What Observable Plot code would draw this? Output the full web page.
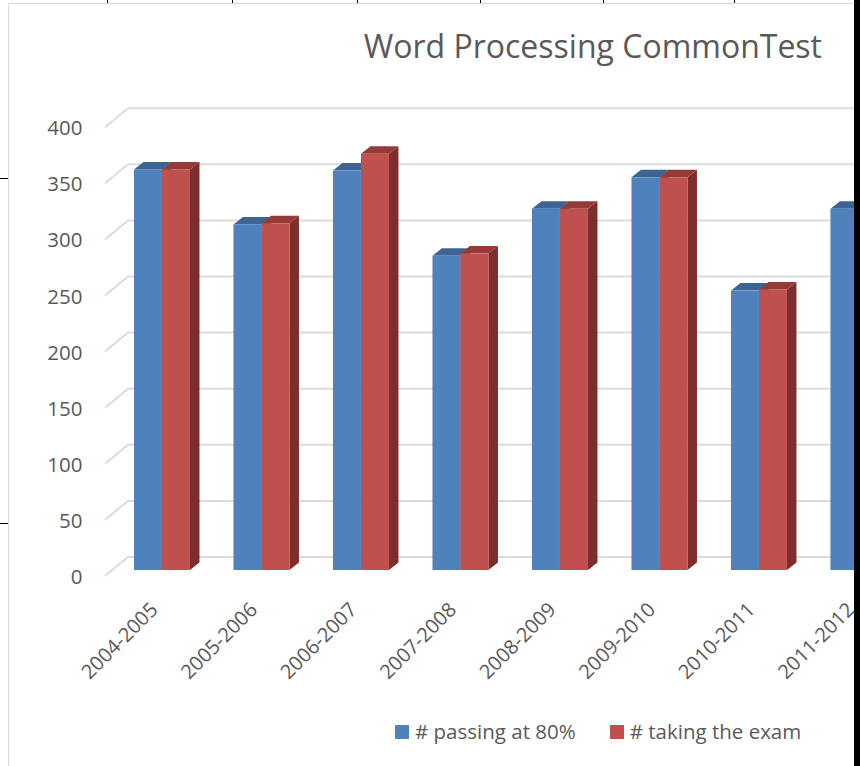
<!DOCTYPE html>
<html>
<head>
<meta charset="utf-8">
<script src="https://cdn.jsdelivr.net/npm/d3@7"></script>
<script src="https://cdn.jsdelivr.net/npm/@observablehq/plot@0.6"></script>
<style>
  html, body { margin: 0; padding: 0; background: #fff; }
  #page { position: relative; width: 860px; height: 766px; overflow: hidden; background: #fff; font-family: "Open Sans", sans-serif; }
  #chart { position: absolute; left: 0; top: 0; }
  .frame-top { position: absolute; left: 8px; top: 3px; width: 860px; height: 1px; background: #d9d9d9; }
  .frame-left { position: absolute; left: 8px; top: 3px; width: 1px; height: 770px; background: #d9d9d9; }
  .cell-tick { position: absolute; top: 0; width: 1px; height: 3px; background: #000; }
  .row-tick { position: absolute; left: 0; width: 8px; height: 1px; background: #000; }
  .edge { position: absolute; left: 854px; top: 0; width: 6px; height: 766px; background: #000; }
  #title { position: absolute; top: 30px; right: 38px; font-size: 32px; line-height: 32px; color: #595959; white-space: nowrap; }
  #legend { position: absolute; top: 721px; left: 395px; font-size: 20.5px; line-height: 20px; color: #595959; white-space: nowrap; display: flex; }
  #legend .item { display: flex; align-items: center; }
  #legend .swatch { width: 14px; height: 14px; margin-right: 6px; margin-top: 2px; }
</style>
</head>
<body>
<div id="page">
  <div id="chart"></div>
  <div class="frame-top"></div>
  <div class="frame-left"></div>
  <div class="cell-tick" style="left:107px"></div>
  <div class="cell-tick" style="left:232px"></div>
  <div class="cell-tick" style="left:357px"></div>
  <div class="cell-tick" style="left:480px"></div>
  <div class="cell-tick" style="left:603px"></div>
  <div class="cell-tick" style="left:734px"></div>
  <div class="row-tick" style="top:178px"></div>
  <div class="row-tick" style="top:523px"></div>
  <div id="title">Word Processing CommonTest</div>
  <div id="legend"></div>
  <div class="edge"></div>
</div>
<script>
// School years on the category axis
const years = ["2004-2005", "2005-2006", "2006-2007", "2007-2008", "2008-2009", "2009-2010", "2010-2011", "2011-2012"];
// Number of students passing at 80%
const passing = [357, 308, 356, 280, 322, 350, 249, 322];
// Number of students taking the exam
const taking = [357, 309, 371, 282, 322, 350, 250, 322];
// Value axis ticks
const yTicks = [0, 50, 100, 150, 200, 250, 300, 350, 400];

const seriesNames = ["# passing at 80%", "# taking the exam"];
const seriesColors = ["#4f81bd", "#c0504d"];

// Bar geometry (x units = one category slot)
const barW = 0.2814;
const depthX = 9.5, depthY = 7.5;          // bar extrusion, px
const wallX = 23, wallFront = 6, wallBack = 13; // floor / back wall offsets, px

// Back-wall gridlines with the slanted side-wall segment
const grid = (index, scales, values, dims) => {
  const y = scales.y;
  const left = dims.marginLeft, right = dims.width - dims.marginRight;
  const g = d3.create("svg:g").attr("stroke", "#dcdcdc").attr("stroke-width", 2).attr("fill", "none");
  for (const t of yTicks) {
    g.append("path").attr("d", `M${left},${y(t) + wallFront}L${left + wallX},${y(t) - wallBack}H${right}`);
  }
  return g.node();
};

// Top and side faces of the extruded bars
const faces = (vals, start, end, topColor, sideColor) => (index, scales) => {
  const {x, y} = scales;
  const g = d3.create("svg:g");
  vals.forEach((v, i) => {
    const x0 = x(i + start), x1 = x(i + end), yt = y(v), yb = y(0);
    g.append("path").attr("fill", sideColor)
      .attr("d", `M${x1},${yb}L${x1},${yt}L${x1 + depthX},${yt - depthY}L${x1 + depthX},${yb - depthY}Z`);
    g.append("path").attr("fill", topColor)
      .attr("d", `M${x0},${yt}L${x1},${yt}L${x1 + depthX},${yt - depthY}L${x0 + depthX},${yt - depthY}Z`);
  });
  return g.node();
};

const plot = Plot.plot({
  width: 1000,
  height: 766,
  marginLeft: 105,
  marginRight: 0,
  marginTop: 121.2,
  marginBottom: 196,
  style: {fontFamily: "'Open Sans', sans-serif", background: "transparent", maxWidth: "none", overflow: "visible"},
  x: {type: "linear", domain: [-0.5725, 8.4225], axis: null},
  y: {domain: [0, 400], axis: null},
  marks: [
    grid,
    faces(passing, -barW, 0, "#3d6594", "#2f5079"),
    Plot.rect(passing, {x1: (d, i) => i - barW, x2: (d, i) => i, y1: () => 0, y2: d => d, fill: seriesColors[0]}),
    faces(taking, 0, barW, "#963a38", "#7b2e2c"),
    Plot.rect(taking, {x1: (d, i) => i, x2: (d, i) => i + barW, y1: () => 0, y2: d => d, fill: seriesColors[1]}),
    Plot.text(yTicks, {frameAnchor: "left", y: d => d, text: d => String(d), textAnchor: "end",
      dx: -23, dy: 7, fontSize: 20.5, fill: "#595959"}),
    Plot.text(years, {x: (d, i) => i, y: () => 0, text: d => d, rotate: -45, textAnchor: "end",
      dx: -8, dy: 36, fontSize: 20, fill: "#595959"})
  ]
});
document.getElementById("chart").appendChild(plot);

// Legend
const legend = d3.select("#legend");
seriesNames.forEach((name, i) => {
  const item = legend.append("div").attr("class", "item").style("margin-right", i === 0 ? "34px" : "0");
  item.append("div").attr("class", "swatch").style("background", seriesColors[i]);
  item.append("span").text(name);
});
</script>
</body>
</html>
